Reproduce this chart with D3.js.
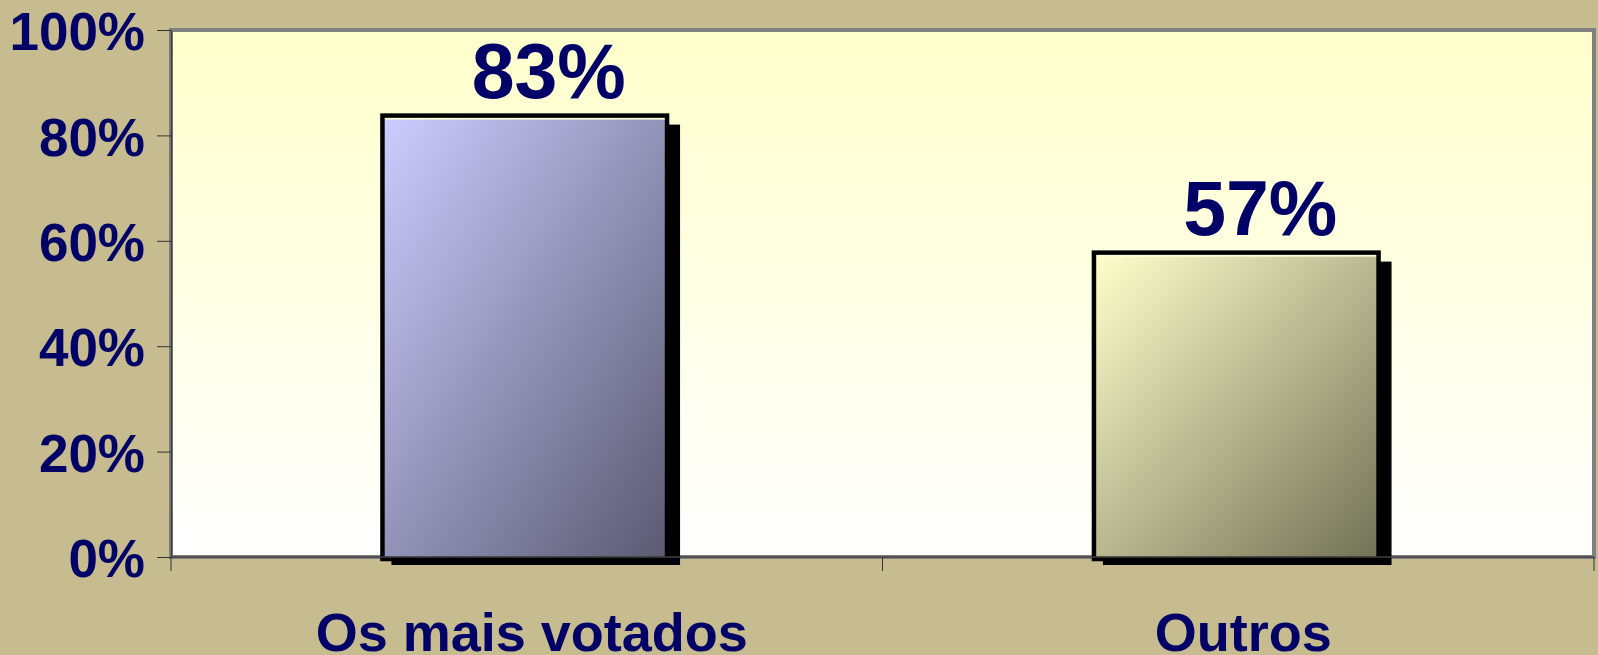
<!DOCTYPE html>
<html>
<head>
<meta charset="utf-8">
<script src="https://cdn.jsdelivr.net/npm/d3@7"></script>
<style>
  body { margin: 0; background: #C6BC8F; }
  svg { display: block; }
  text { font-family: "Liberation Sans", Arial, sans-serif; font-weight: bold; fill: #000066; }
</style>
</head>
<body>
<div id="chart"></div>
<script>
// data
var categories = ["Os mais votados", "Outros"];
var values = [0.83, 0.57];
var valueLabels = ["83%", "57%"];
var yTicks = [0, 0.2, 0.4, 0.6, 0.8, 1];

var barColors = [
    {from: "#CCCCFF", to: "#5A5A72"},
    {from: "#FFFFCC", to: "#727256"}
];

var W = 1598, H = 655;
var margin = {top: 30, right: 4, bottom: 98, left: 171};
var width = W - margin.left - margin.right,
    height = H - margin.top - margin.bottom;

var svg = d3.select("#chart").append("svg")
    .attr("width", W)
    .attr("height", H);

var defs = svg.append("defs");

// plot background gradient
var bg = defs.append("linearGradient")
    .attr("id", "plotBg")
    .attr("x1", 0).attr("y1", 0).attr("x2", 0).attr("y2", 1);
bg.append("stop").attr("offset", "0%").attr("stop-color", "#FFFFCC");
bg.append("stop").attr("offset", "100%").attr("stop-color", "#FFFFFF");

barColors.forEach(function (c, i) {
    var g = defs.append("linearGradient")
        .attr("id", "barGrad" + i)
        .attr("x1", 0).attr("y1", 0).attr("x2", 1).attr("y2", 1);
    g.append("stop").attr("offset", "0%").attr("stop-color", c.from);
    g.append("stop").attr("offset", "100%").attr("stop-color", c.to);
});

var g = svg.append("g")
    .attr("transform", "translate(" + margin.left + "," + margin.top + ")");

var x = d3.scaleBand()
    .domain(categories)
    .range([0, width])
    .padding(0);

var y = d3.scaleLinear()
    .domain([0, 1])
    .range([height, 0]);

// plot area
g.append("rect")
    .attr("x", 0)
    .attr("y", 0)
    .attr("width", width)
    .attr("height", height)
    .attr("fill", "url(#plotBg)")
    .attr("stroke", "#808080")
    .attr("stroke-width", 4);

var barW = x.bandwidth() * 0.40;

var bars = g.selectAll("g.bar")
    .data(categories)
    .enter()
    .append("g")
    .attr("class", "bar");

function bx(d) { return x(d) + x.bandwidth() / 2 - 2 - barW / 2; }

// shadow
bars.append("rect")
    .attr("x", function (d) { return bx(d) + 9; })
    .attr("y", function (d, i) { return y(values[i]) + 5; })
    .attr("width", barW + 4)
    .attr("height", function (d, i) { return height - y(values[i]) + 3; })
    .attr("fill", "#000");

// fill
bars.append("rect")
    .attr("x", function (d) { return bx(d); })
    .attr("y", function (d, i) { return y(values[i]); })
    .attr("width", barW)
    .attr("height", function (d, i) { return height - y(values[i]); })
    .attr("fill", function (d, i) { return "url(#barGrad" + i + ")"; });

// outline
bars.append("rect")
    .attr("x", function (d) { return bx(d); })
    .attr("y", function (d, i) { return y(values[i]) - 4; })
    .attr("width", barW)
    .attr("height", function (d, i) { return height - y(values[i]) + 6; })
    .attr("fill", "none")
    .attr("stroke", "#000")
    .attr("stroke-width", 4.5);

// value labels
bars.append("text")
    .attr("x", function (d) { return x(d) + x.bandwidth() / 2 + 22; })
    .attr("y", function (d, i) { return y(values[i]) - 22; })
    .attr("text-anchor", "middle")
    .style("font-size", "77px")
    .text(function (d, i) { return valueLabels[i]; });

// y axis
var yAxis = g.append("g")
    .call(d3.axisLeft(y)
        .tickValues(yTicks)
        .tickFormat(d3.format(".0%"))
        .tickSize(14)
        .tickSizeOuter(0)
        .tickPadding(12));
yAxis.select(".domain").attr("stroke", "#404040").attr("stroke-width", 1.5);
yAxis.selectAll(".tick line").attr("stroke", "#333");
yAxis.selectAll(".tick text")
    .attr("fill", "#000066")
    .attr("font-family", null)
    .attr("font-size", null)
    .style("font-size", "53px")
    .attr("dy", "0.37em");

// x axis: ticks at category boundaries
var xAxis = g.append("g")
    .attr("transform", "translate(0," + height + ")");
xAxis.append("line")
    .attr("x1", 0).attr("x2", width)
    .attr("y1", 0).attr("y2", 0)
    .attr("stroke", "#404040")
    .attr("stroke-width", 1.5);
var bounds = categories.map(function (d) { return x(d); }).concat([width]);
xAxis.selectAll("line.sep")
    .data(bounds)
    .enter()
    .append("line")
    .attr("class", "sep")
    .attr("x1", function (d) { return d; })
    .attr("x2", function (d) { return d; })
    .attr("y1", 0)
    .attr("y2", 14)
    .attr("stroke", "#333");

xAxis.selectAll("text.cat")
    .data(categories)
    .enter()
    .append("text")
    .attr("class", "cat")
    .attr("x", function (d) { return x(d) + x.bandwidth() / 2 + 5; })
    .attr("y", 94)
    .attr("text-anchor", "middle")
    .style("font-size", "54px")
    .text(function (d) { return d; });
</script>
</body>
</html>
